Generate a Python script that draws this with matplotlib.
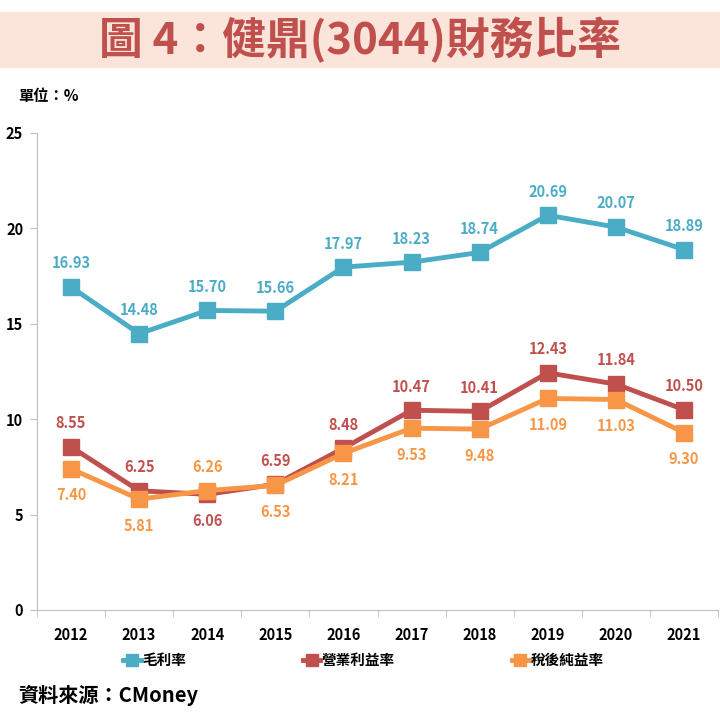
import matplotlib
matplotlib.use('Agg')
import matplotlib.pyplot as plt
import numpy as np
from matplotlib.patches import Rectangle

plt.rcParams['font.family'] = ['Noto Sans CJK TC', 'DejaVu Sans']

years = ['2012', '2013', '2014', '2015', '2016', '2017', '2018', '2019', '2020', '2021']
gross = [16.93, 14.48, 15.70, 15.66, 17.97, 18.23, 18.74, 20.69, 20.07, 18.89]
operating = [8.55, 6.25, 6.06, 6.59, 8.48, 10.47, 10.41, 12.43, 11.84, 10.50]
net = [7.40, 5.81, 6.26, 6.53, 8.21, 9.53, 9.48, 11.09, 11.03, 9.30]

# label above (1) or below (-1) the point
op_side = [1, 1, -1, 1, 1, 1, 1, 1, 1, 1]
net_side = [-1, -1, 1, -1, -1, -1, -1, -1, -1, -1]

series = [
    ('毛利率', gross, '#4BACC6', [1] * 10),
    ('營業利益率', operating, '#C0504D', op_side),
    ('稅後純益率', net, '#F79646', net_side),
]

fig = plt.figure(figsize=(7.2, 7.2), dpi=100)

# title band
fig.patches.append(Rectangle((0, 1 - 68 / 720), 1, 56 / 720, transform=fig.transFigure,
                             facecolor='#FBE4DA', edgecolor='none', zorder=0))
fig.text(0.5, 1 - 40 / 720, '圖 4：健鼎(3044)財務比率', ha='center', va='center',
         fontsize=31.5, fontweight='bold', color='#C0504D')
fig.text(18 / 720, 1 - 96 / 720, '單位：%', ha='left', va='center', fontsize=11, fontweight='bold')
fig.text(18 / 720, 1 - 695 / 720, '資料來源：CMoney', ha='left', va='center', fontsize=14.5, fontweight='bold')

ax = fig.add_axes([37 / 720, 1 - 610 / 720, (718 - 37) / 720, (610 - 133) / 720])
x = np.arange(len(years))
handles = []
for name, vals, color, sides in series:
    h, = ax.plot(x, vals, color=color, lw=3.5, marker='s', ms=11, label=name, zorder=3)
    handles.append(h)
    for xi, v, s in zip(x, vals, sides):
        off = 17 if s > 0 else -19
        ax.annotate(f'{v:.2f}', (xi, v), xytext=(0, off), textcoords='offset points',
                    ha='center', va='center', fontsize=10.5, fontweight='bold', color=color)

ax.set_xlim(-0.5, 9.5)
ax.set_ylim(0, 25)
ax.set_yticks([0, 5, 10, 15, 20, 25])
ax.set_xticks(x)
ax.set_xticklabels(years)
ax.set_xticks(np.arange(-0.5, 10, 1), minor=True)
ax.tick_params(axis='x', which='major', length=0, pad=12, labelsize=10.5)
ax.tick_params(axis='x', which='minor', length=5, color='#BFBFBF')
ax.tick_params(axis='y', length=5, color='#BFBFBF', labelsize=10.5, pad=5)
for lbl in ax.get_xticklabels() + ax.get_yticklabels():
    lbl.set_fontweight('bold')
for sp in ['top', 'right']:
    ax.spines[sp].set_visible(False)
for sp in ['left', 'bottom']:
    ax.spines[sp].set_color('#BFBFBF')

leg = fig.legend(handles=handles, loc='center', bbox_to_anchor=(0.505, 1 - 660 / 720), ncol=3,
                 frameon=False, prop={'weight': 'bold', 'size': 10.5}, handlelength=1.2,
                 handletextpad=0.1, columnspacing=8, markerscale=0.8)

fig.savefig('out.png', dpi=100)
